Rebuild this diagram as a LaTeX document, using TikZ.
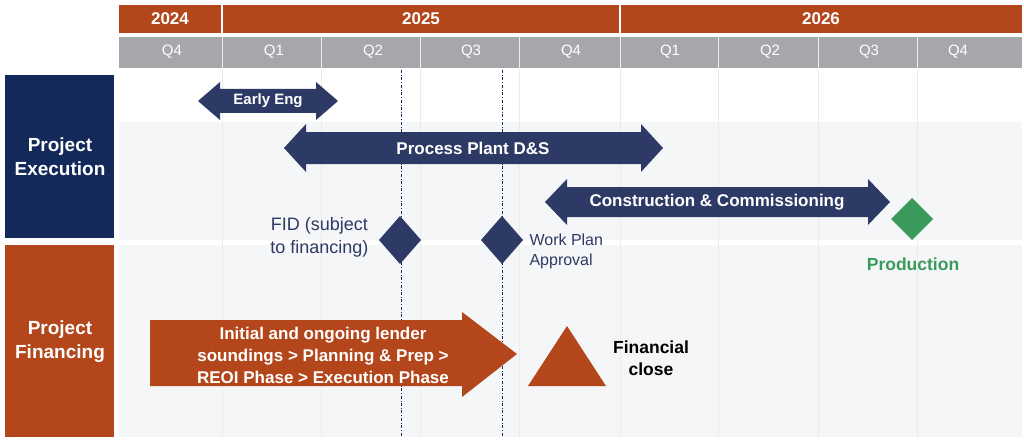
\documentclass[tikz,border=0pt]{standalone}
\usepackage{fontspec}
\setmainfont{Liberation Sans}
\definecolor{org}{HTML}{B4461B}
\definecolor{navy}{HTML}{2E3A66}
\definecolor{dnavy}{HTML}{13295A}
\definecolor{qgray}{HTML}{A5A7AA}
\definecolor{band}{HTML}{F5F6F7}
\definecolor{grn}{HTML}{3A9A5B}
\tikzset{
 hdr/.style={text=white,font=\bfseries\fontsize{17}{17}\selectfont},
 qtxt/.style={text=white,font=\fontsize{15}{15}\selectfont},
 arrtxt/.style={text=white,font=\bfseries\fontsize{17}{22}\selectfont,align=center},
 lbl/.style={text=navy,font=\fontsize{18}{23}\selectfont},
 side/.style={text=white,font=\bfseries\fontsize{19}{24}\selectfont,align=center},
}
\newcommand{\dblarrow}[5]{% x1 x2 yc bodyhalf headhalf
 \fill[navy] (#1,#3) -- (#1+22,#3-#5) -- (#1+22,#3-#4) -- (#2-22,#3-#4) -- (#2-22,#3-#5) -- (#2,#3) -- (#2-22,#3+#5) -- (#2-22,#3+#4) -- (#1+22,#3+#4) -- (#1+22,#3+#5) -- cycle;}
\begin{document}
\begin{tikzpicture}[x=1pt,y=-1pt]
\useasboundingbox (0,0) rectangle (1024,441);
\fill[white] (0,0) rectangle (1024,441);
% bands
\fill[band] (119,122) rectangle (1022,240);
\fill[band] (119,245) rectangle (1022,437);
\foreach \x in {222,321,420,519,620,718,818,917}
 \draw[black!8] (\x,70) -- (\x,437);
% year bar
\fill[org] (119,5) rectangle (1022,33);
\draw[white,line width=1.2pt] (222,5) -- (222,33) (620,5) -- (620,33);
\node[hdr] (y24) at (170,19) {2024};
\node[hdr] (y25) at (421,19) {2025};
\node[hdr] (y26) at (821,19) {2026};
% quarter bar
\fill[qgray] (119,37) rectangle (1022,68);
\foreach \x in {222,321,420,519,620,718,818,917}
 \draw[white!80!qgray] (\x,37) -- (\x,68);
\foreach \x/\q/\n in {172/Q4/a,274/Q1/b,373/Q2/c,471/Q3/d,571/Q4/e,670/Q1/f,770/Q2/g,869/Q3/h,958/Q4/i}
 \node[qtxt] (q\n) at (\x,52) {\q};
% side boxes
\fill[dnavy] (5,75) rectangle (114,238);
\node[side] (pe) at (60,157) {Project\\Execution};
\fill[org] (5,245) rectangle (114,437);
\node[side] (pf) at (60,342) {Project\\Financing};
% dash-dot lines
\draw[dnavy,dash dot,line width=0.9pt] (401,70) -- (401,437);
\draw[dnavy,dash dot,line width=0.9pt] (502,70) -- (502,437);
% double arrows
\dblarrow{198}{338}{101}{12}{19}
\node[arrtxt,font=\bfseries\fontsize{15}{18}\selectfont] (ee) at (268,101) {Early Eng};
\dblarrow{284}{663}{148}{16}{24}
\node[arrtxt] (pp) at (473,148) {Process Plant D\&S};
\dblarrow{545}{890}{202}{15}{23}
\node[arrtxt] (cc) at (717,202) {Construction \& Commissioning};
% diamonds
\fill[navy] (400,216) -- (421,240) -- (400,264) -- (379,240) -- cycle;
\fill[navy] (502,216) -- (523,240) -- (502,264) -- (481,240) -- cycle;
\fill[grn] (912,198) -- (933,219) -- (912,240) -- (891,219) -- cycle;
\node[lbl,anchor=east,align=center] (fid) at (372,237) {FID (subject\\to financing)};
\node[lbl,anchor=west,align=left,font=\fontsize{16}{20}\selectfont] (wp) at (526,251) {Work Plan\\Approval};
\node[text=grn,font=\bfseries\fontsize{17.5}{20}\selectfont] (prod) at (913,264) {Production};
% financing arrow
\fill[org] (150,320) -- (462,320) -- (462,312) -- (517,354) -- (462,397) -- (462,386) -- (150,386) -- cycle;
\node[arrtxt] (fin) at (323,355) {Initial and ongoing lender\\soundings > Planning \& Prep >\\REOI Phase > Execution Phase};
% triangle
\fill[org] (567,326) -- (606,386) -- (528,386) -- cycle;
\node[text=black,font=\bfseries\fontsize{17.5}{22}\selectfont,align=center] (fc) at (651,358) {Financial\\close};
\end{tikzpicture}
\end{document}
